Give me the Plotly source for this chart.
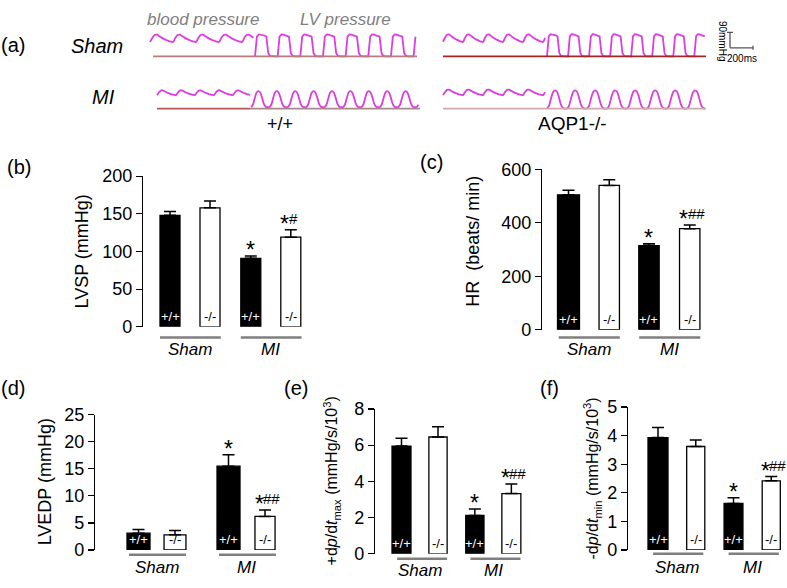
import plotly.graph_objects as go

W, H = 787, 588
FONT = "Arial, Liberation Sans, Helvetica, sans-serif"

# ======================= DATA =======================
group_names = ["Sham", "MI"]
genotypes = ["+/+", "-/-", "+/+", "-/-"]

lvsp_mean = [148, 158, 91, 119]
lvsp_err = [5, 9, 3, 10]
lvsp_sig = ["", "", "*", "*#"]
lvsp_ticks = [0, 50, 100, 150, 200]

hr_mean = [505, 540, 315, 378]
hr_err = [17, 21, 7, 14]
hr_sig = ["", "", "*", "*##"]
hr_ticks = [0, 200, 400, 600]

lvedp_mean = [3.1, 2.8, 15.5, 6.2]
lvedp_err = [0.7, 0.8, 2.1, 1.2]
lvedp_sig = ["", "", "*", "*##"]
lvedp_ticks = [0, 5, 10, 15, 20, 25]

dpmax_mean = [5.95, 6.45, 2.12, 3.33]
dpmax_err = [0.43, 0.57, 0.36, 0.52]
dpmax_sig = ["", "", "*", "*##"]
dpmax_ticks = [0, 2, 4, 6, 8]

dpmin_mean = [3.93, 3.62, 1.63, 2.42]
dpmin_err = [0.35, 0.23, 0.2, 0.15]
dpmin_sig = ["", "", "*", "*##"]
dpmin_ticks = [0, 1, 2, 3, 4, 5]

# pressure recordings (panel a): one-beat wave shapes (normalised)
bp_wave = [0.0, 0.55, 0.95, 1.0, 0.8, 0.6, 0.42, 0.28, 0.15, 0.05]
lv_sham_wave = [0.0, 0.9, 1.0, 0.99, 0.97, 0.95, 0.9, 0.15, 0.02, 0.0, 0.0, 0.0]
lv_mi_wave = [0.0, 0.15, 0.55, 0.9, 1.0, 0.92, 0.6, 0.2, 0.03, 0.0]

# low / high pressure (mmHg) and beat interval (ms)
sham_wt_bp = dict(low=84, high=126, rr=200)
sham_wt_lv = dict(low=0, high=128, rr=197)
sham_ko_bp = dict(low=84, high=128, rr=174)
sham_ko_lv = dict(low=0, high=129, rr=183)
mi_wt_bp = dict(low=78, high=106, rr=165)
mi_wt_lv = dict(low=8, high=101, rr=160)
mi_ko_bp = dict(low=78, high=110, rr=174)
mi_ko_lv = dict(low=0, high=106, rr=174)

scale_mmHg = 90
scale_ms = 200

# ======================= LAYOUT HELPERS =======================
def px_x(x):
    return x / W

def px_y(y):
    return 1 - y / H

fig = go.Figure()
annotations = []
shapes = []
layout = dict(
    width=W, height=H, margin=dict(l=0, r=0, t=0, b=0),
    paper_bgcolor="white", plot_bgcolor="white", showlegend=False,
    font=dict(family=FONT, color="black"),
)

def ann(text, x, y, size, **kw):
    d = dict(text=text, x=px_x(x), y=px_y(y), xref="paper", yref="paper",
             showarrow=False, font=dict(family=FONT, size=size, color=kw.pop("color", "black")),
             xanchor="center", yanchor="middle")
    d.update(kw)
    annotations.append(d)

# ======================= PANEL (a) =======================
ms_per_px = scale_ms / 23.0
mmHg_per_px = scale_mmHg / 16.0
layout["xaxis"] = dict(domain=[0, 1], range=[0, W * ms_per_px], visible=False, fixedrange=True)
layout["yaxis"] = dict(domain=[px_y(56), px_y(8)], range=[-8 * mmHg_per_px, 40 * mmHg_per_px],
                       visible=False, anchor="x")
layout["yaxis2"] = dict(domain=[px_y(110), px_y(62)], range=[-8 * mmHg_per_px, 40 * mmHg_per_px],
                        visible=False, anchor="x")

MAG = "#dd3ce0"

def wave(t0_px, t1_px, p, shape, yref, smooth):
    n = len(shape)
    dt = p["rr"] / n
    t = t0_px * ms_per_px
    end = t1_px * ms_per_px
    xs, ys = [], []
    i = 0
    while t <= end + 1e-9:
        xs.append(t)
        ys.append(p["low"] + (p["high"] - p["low"]) * shape[i % n])
        t += dt
        i += 1
    fig.add_trace(go.Scatter(x=xs, y=ys, mode="lines", xaxis="x", yaxis=yref,
                             line=dict(color=MAG, width=1.8,
                                       shape="spline" if smooth else "linear",
                                       smoothing=0.8), hoverinfo="skip"))

def baseline(x0_px, x1_px, yref, color, width=1.6):
    shapes.append(dict(type="line", xref="x", yref=yref,
                       x0=x0_px * ms_per_px, x1=x1_px * ms_per_px, y0=0, y1=0,
                       line=dict(color=color, width=width)))

baseline(153, 255, "y", "#b87c7c")
baseline(255, 417, "y", "#b87c7c")
baseline(443, 706, "y", "#a02828")
baseline(157, 250, "y2", "#b45a5a", 1.8)
baseline(250, 420, "y2", "#a88a8a", 1.8)
baseline(443, 706, "y2", "#cfaaa8", 1.8)

wave(150, 254, sham_wt_bp, bp_wave, "y", True)
wave(255, 417, sham_wt_lv, lv_sham_wave, "y", False)
wave(443, 547, sham_ko_bp, bp_wave, "y", True)
wave(547, 706, sham_ko_lv, lv_sham_wave, "y", False)
wave(157, 251, mi_wt_bp, bp_wave, "y2", True)
wave(251, 420, mi_wt_lv, lv_mi_wave, "y2", True)
wave(443, 547, mi_ko_bp, bp_wave, "y2", True)
wave(547, 706, mi_ko_lv, lv_mi_wave, "y2", True)

sb_x = 730 * ms_per_px
sb_y = 50
SBC = "#555555"
shapes.append(dict(type="line", xref="x", yref="y", x0=sb_x, x1=sb_x, y0=sb_y, y1=sb_y + scale_mmHg,
                   line=dict(color=SBC, width=1.3)))
shapes.append(dict(type="line", xref="x", yref="y", x0=sb_x, x1=sb_x + scale_ms, y0=sb_y, y1=sb_y,
                   line=dict(color=SBC, width=1.3)))
shapes.append(dict(type="line", xref="x", yref="y", x0=sb_x + scale_ms, x1=sb_x + scale_ms,
                   y0=sb_y - 2 * mmHg_per_px, y1=sb_y + 2 * mmHg_per_px, line=dict(color=SBC, width=1.3)))
shapes.append(dict(type="line", xref="x", yref="y", x0=sb_x - 3 * ms_per_px, x1=sb_x + 3 * ms_per_px,
                   y0=sb_y + scale_mmHg, y1=sb_y + scale_mmHg, line=dict(color=SBC, width=1.3)))
ann(f"{scale_mmHg}mmHg", 722, 32, 10, textangle=90)
ann(f"{scale_ms}ms", 742, 50, 10)

ann("(a)", 13, 36, 20)
ann("<i>Sham</i>", 97, 37, 20)
ann("<i>MI</i>", 103, 90, 20)
ann("<i>blood pressure</i>", 203, 10, 17, color="#808080")
ann("<i>LV pressure</i>", 345, 10, 17, color="#808080")
ann("+/+", 280, 118, 18)
ann("AQP1-/-", 572, 118, 19)

# ======================= BAR PANELS =======================
panels = [
    dict(mean=lvsp_mean, err=lvsp_err, sig=lvsp_sig, ticks=lvsp_ticks, ymax=200,
         title="LVSP (mmHg)", ax=143, xr=312, y0=328, ytop=172, x0=170, unit=40.0, g=2.02,
         widths=[0.5, 0.5, 0.5, 0.5], line_lo=-0.25, line_hi=1.27, gy=339, ly=351,
         letter="(b)", lx=19, lyy=163, tx=82, ty=250, tsize=18),
    dict(mean=hr_mean, err=hr_err, sig=hr_sig, ticks=hr_ticks, ymax=600,
         title="HR  (beats/ min)", ax=542, xr=712, y0=331, ytop=165, x0=568.5, unit=40.75, g=1.975,
         widths=[0.54, 0.5, 0.5, 0.5], line_lo=-0.24, line_hi=1.26, gy=339, ly=351,
         letter="(c)", lx=431, lyy=157, tx=473, ty=240, tsize=18),
    dict(mean=lvedp_mean, err=lvedp_err, sig=lvedp_sig, ticks=lvedp_ticks, ymax=25,
         title="LVEDP (mmHg)", ax=95, xr=285, y0=559, ytop=419, x0=138.5, unit=36.5, g=2.466,
         widths=[0.63, 0.6, 0.63, 0.55], line_lo=-0.26, line_hi=1.3, gy=564, ly=577,
         letter="(d)", lx=13, lyy=391, tx=45, ty=489, tsize=18),
    dict(mean=dpmax_mean, err=dpmax_err, sig=dpmax_sig, ticks=dpmax_ticks, ymax=8,
         title="+d<i>p</i>/d<i>t</i><sub>max</sub> (mmHg/s/10<sup>3</sup>)", ax=375, xr=530, y0=563, ytop=413,
         x0=401.5, unit=36.5, g=2.01, widths=[0.52, 0.5, 0.5, 0.52], line_lo=-0.12, line_hi=1.25,
         gy=568, ly=580, letter="(e)", lx=296, lyy=391, tx=332, ty=488, tsize=16),
    dict(mean=dpmin_mean, err=dpmin_err, sig=dpmin_sig, ticks=dpmin_ticks, ymax=5,
         title="-d<i>p</i>/d<i>t</i><sub>min</sub> (mmHg/s/10<sup>3</sup>)", ax=628, xr=786, y0=559, ytop=411,
         x0=658, unit=37.75, g=2.0, widths=[0.53, 0.48, 0.5, 0.48], line_lo=-0.13, line_hi=1.2,
         gy=563, ly=577, letter="(f)", lx=549, lyy=391, tx=592, ty=485, tsize=16),
]

for k, p in enumerate(panels):
    xa = f"xaxis{k + 2}"
    ya = f"yaxis{k + 3}"
    xr_ = f"x{k + 2}"
    yr_ = f"y{k + 3}"
    positions = [0, 1, p["g"], p["g"] + 1]
    layout[xa] = dict(domain=[px_x(p["ax"]), px_x(p["xr"])],
                      range=[(p["ax"] - p["x0"]) / p["unit"], (p["xr"] - p["x0"]) / p["unit"]],
                      visible=False, anchor=yr_, fixedrange=True)
    layout[ya] = dict(domain=[px_y(p["y0"]), px_y(p["ytop"])], range=[0, p["ymax"]], anchor=xr_,
                      showline=True, linecolor="black", linewidth=1.2, ticks="outside",
                      ticklen=6, tickwidth=1.2, tickcolor="black", tickvals=p["ticks"],
                      ticktext=[str(t) for t in p["ticks"]], showgrid=False, zeroline=False,
                      tickfont=dict(family=FONT, size=18, color="black"), fixedrange=True)
    colors = ["black", "white", "black", "white"]
    fig.add_trace(go.Bar(x=positions, y=p["mean"], width=p["widths"], xaxis=xr_, yaxis=yr_,
                         marker=dict(color=colors, line=dict(color="black", width=1.3)),
                         error_y=dict(type="data", array=p["err"], arrayminus=[0] * 4,
                                      symmetric=False, color="black", thickness=1.5, width=6),
                         hoverinfo="skip", cliponaxis=False))
    for i, gname in enumerate(genotypes):
        annotations.append(dict(text=gname, x=positions[i], y=0, xref=xr_, yref=yr_,
                                showarrow=False, yanchor="bottom", xanchor="center", yshift=1,
                                font=dict(family=FONT, size=13,
                                          color="white" if colors[i] == "black" else "black")))
        s = p["sig"][i]
        if s:
            top = p["mean"][i] + p["err"][i]
            has_hash = len(s) > 1
            annotations.append(dict(text="*", x=positions[i], y=top, xref=xr_, yref=yr_,
                                    showarrow=False, yanchor="middle", xanchor="center",
                                    yshift=6, xshift=-6 if has_hash else 0,
                                    font=dict(family=FONT, size=23, color="black")))
            if has_hash:
                annotations.append(dict(text=s[1:], x=positions[i], y=top, xref=xr_, yref=yr_,
                                        showarrow=False, yanchor="middle", xanchor="left",
                                        yshift=11, xshift=-3, borderpad=0,
                                        font=dict(family=FONT, size=15, color="black")))
    for gi, gname in enumerate(group_names):
        base = 0 if gi == 0 else p["g"]
        shapes.append(dict(type="line", xref=xr_, yref="paper",
                           x0=base + p["line_lo"], x1=base + p["line_hi"],
                           y0=px_y(p["gy"]), y1=px_y(p["gy"]),
                           line=dict(color="#7f7f7f", width=2.5)))
        annotations.append(dict(text=f"<i>{gname}</i>", x=base + 0.5, y=px_y(p["ly"]),
                                xref=xr_, yref="paper", showarrow=False, xanchor="center",
                                yanchor="middle", font=dict(family=FONT, size=17, color="black")))
    ann(p["letter"], p["lx"], p["lyy"], 20)
    ann(p["title"], p["tx"], p["ty"], p["tsize"], textangle=-90)

layout["annotations"] = annotations
layout["shapes"] = shapes
fig.update_layout(**layout)
fig.write_html(
    "out.html",
    config={"displayModeBar": False, "staticPlot": True},
    post_script="var gd=document.getElementById('{plot_id}');"
                "gd.style.position='fixed';gd.style.top='0px';gd.style.left='0px';"
                "document.body.style.margin='0';document.body.style.padding='0';"
                "document.documentElement.style.overflow='hidden';",
)
